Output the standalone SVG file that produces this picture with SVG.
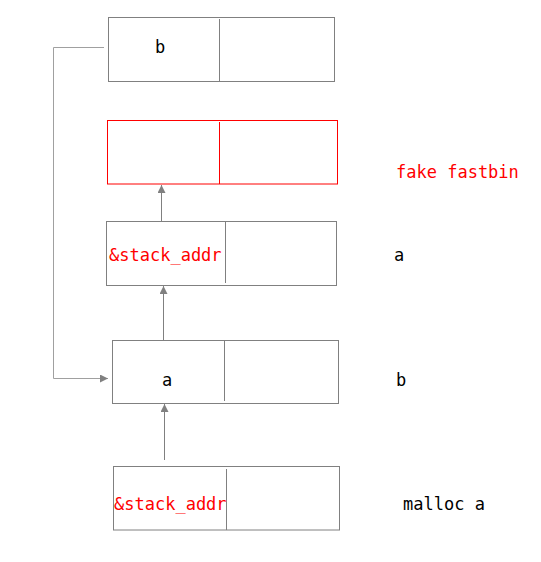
<svg xmlns="http://www.w3.org/2000/svg" width="541" height="562" viewBox="0 0 541 562">
<style>
.box{fill:#fff;stroke:#808080;stroke-width:1}
.red{stroke:#ff0000}
.div{stroke:#808080;stroke-width:1}
.divr{stroke:#ff0000;stroke-width:1}
.t{font-family:"DejaVu Sans Mono","Liberation Mono",monospace;font-size:17px;fill:#000}
.tr{fill:#ff0000}
.con{fill:none;stroke:#808080;stroke-width:1}
</style>
<defs>
<marker id="ah" markerWidth="8" markerHeight="8" refX="8" refY="4" orient="auto" markerUnits="userSpaceOnUse">
<path d="M0,0 L8,4 L0,8 Z" fill="#808080"/>
</marker>
</defs>
<rect width="541" height="562" fill="#fff"/>
<g id="connectors">
<path class="con" d="M161.5,222 V185" marker-end="url(#ah)"/>
<path class="con" d="M163.5,341 V286" marker-end="url(#ah)"/>
<path class="con" d="M164.5,460 V404" marker-end="url(#ah)"/>
<path class="con" style="stroke:#a0a0a0" d="M104,47.5 H53.5 V378.5 H108" marker-end="url(#ah)"/>
</g>
<g id="node-b-top">
<rect class="box" x="108.5" y="17.5" width="226" height="64"/>
<line class="div" x1="219.5" y1="19" x2="219.5" y2="81"/>
<text class="t" x="155" y="53">b</text>
</g>
<g id="node-fake">
<rect class="box red" x="107.5" y="120.5" width="230" height="63.5"/>
<line class="divr" x1="219.5" y1="122" x2="219.5" y2="184"/>
</g>
<g id="node-a-stack">
<rect class="box" x="106.5" y="221.5" width="230" height="64"/>
<line class="div" x1="225.5" y1="222" x2="225.5" y2="283"/>
<text class="t tr" x="109" y="261">&amp;stack_addr</text>
</g>
<g id="node-b">
<rect class="box" x="112.5" y="340.5" width="226" height="63"/>
<line class="div" x1="224.5" y1="341" x2="224.5" y2="401"/>
<text class="t" x="162" y="386">a</text>
</g>
<g id="node-malloc">
<rect class="box" x="113.5" y="466.5" width="226" height="63.5"/>
<line class="div" x1="226.5" y1="469" x2="226.5" y2="530"/>
<text class="t tr" x="114" y="510">&amp;stack_addr</text>
</g>
<g id="labels">
<text class="t tr" x="396" y="178">fake fastbin</text>
<text class="t" x="394" y="261">a</text>
<text class="t" x="396" y="386">b</text>
<text class="t" x="403" y="510">malloc a</text>
</g>
</svg>
